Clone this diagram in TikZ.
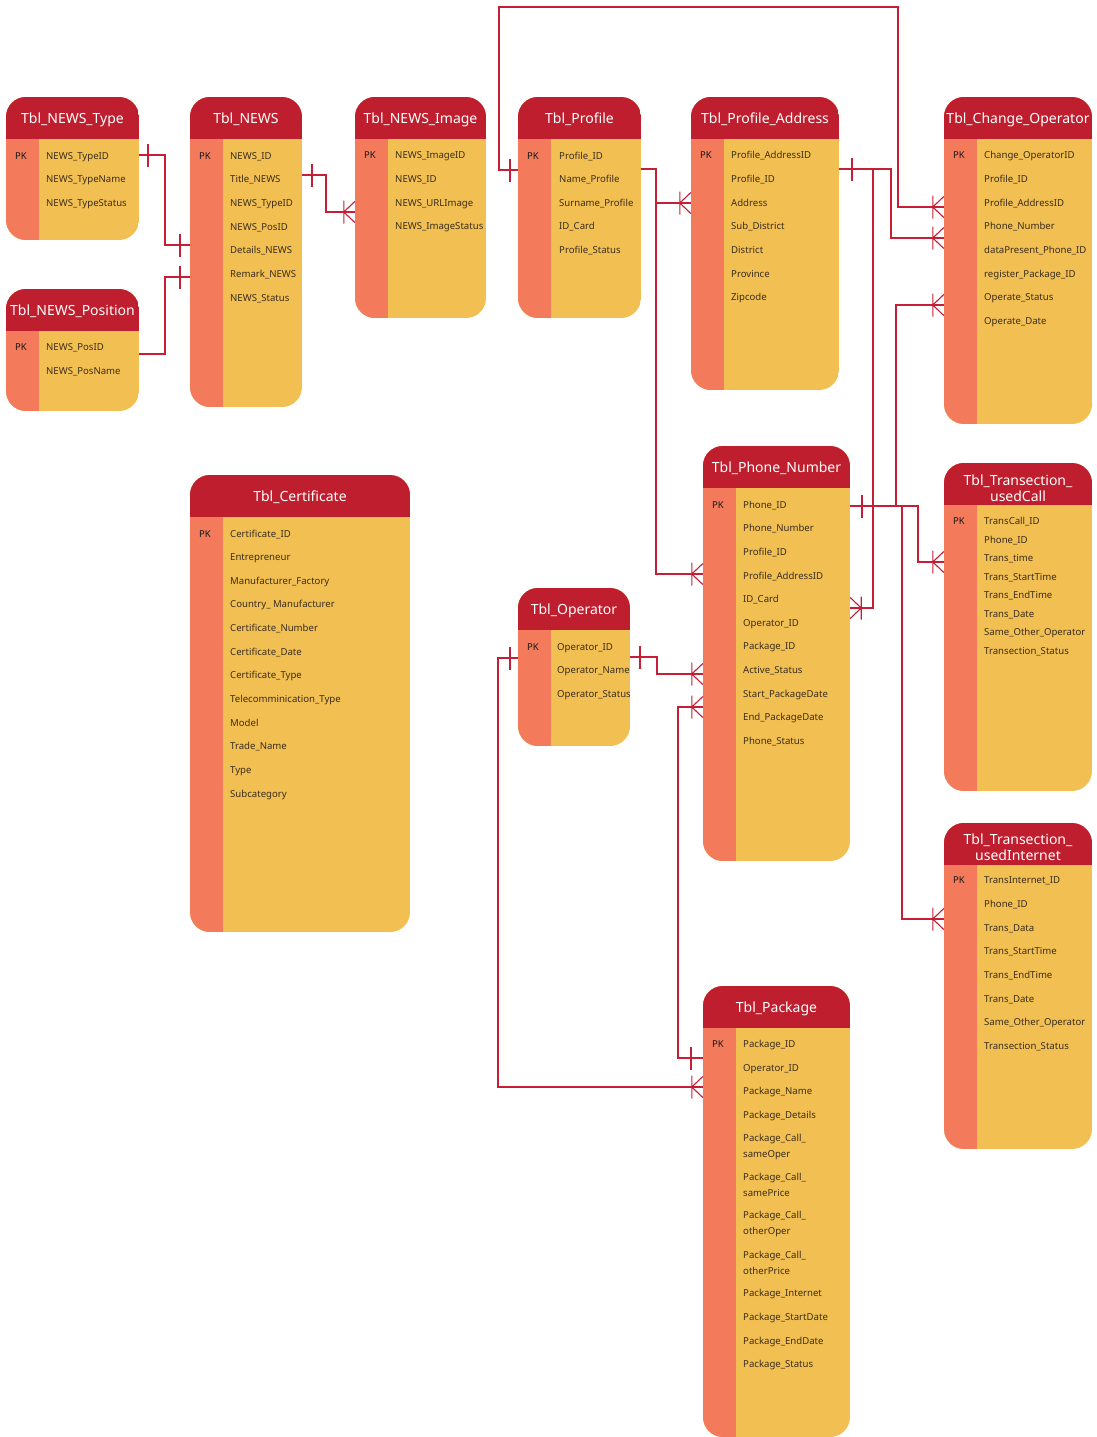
\documentclass[tikz,border=0pt]{standalone}
\usepackage{fontspec}
\setmainfont{Noto Sans}
\usetikzlibrary{fit,calc}

\definecolor{hdr}{HTML}{BE1E2D}
\definecolor{pkcol}{HTML}{F37A5B}
\definecolor{bodycol}{HTML}{F2BF52}
\definecolor{txt}{HTML}{3A2E1E}
\definecolor{rel}{HTML}{C41F35}

\tikzset{
  field/.style={anchor=west, inner sep=0pt, font=\fontsize{9.6}{11}\selectfont,
    text=txt, text height=7pt, text depth=2.5pt, yshift=-2pt},
  field2/.style={anchor=west, inner sep=0pt, align=left,
    font=\fontsize{9.6}{15.5}\selectfont, text=txt, yshift=-1pt},
  pklabel/.style={inner sep=0pt, font=\fontsize{9.5}{11}\selectfont\bfseries,
    text=black!90, text height=6.8pt, text depth=0pt, yshift=-1.5pt},
  tabtitle/.style={inner sep=0pt, font=\fontsize{14}{15.5}\selectfont, text=white,
    align=center},
  relline/.style={draw=rel, line width=1.1pt},
  onebar/.pic={\draw[relline] (0,-11.5) -- (0,11.5);},
  crow/.pic={\draw[relline] (-11,-11.5) -- (-11,11.5) (0,-10.5) -- (-11,0) -- (0,10.5);},
}

% entity box: name, left, top, right, bottom
\newcommand\erbox[5]{%
  \begin{scope}
    \clip[rounded corners=20pt] (#2,#3) rectangle (#4,#5);
    \fill[bodycol] (#2,#3) rectangle (#4,#5);
    \fill[pkcol] (#2,#3) rectangle ({#2+33},#5);
    \fill[hdr] (#2,#3) rectangle (#4,{#3+42});
  \end{scope}
  \coordinate (#1-nw) at (#2,#3);
  \coordinate (#1-se) at (#4,#5);
  \node[fit=(#1-nw)(#1-se), inner sep=0pt] (#1) {};
}
% single-line title: name, text
\newcommand\ertitle[2]{%
  \node[tabtitle, text height=10pt, text depth=3pt, yshift=-2pt] (#1-title)
    at ($(#1.north)+(0,21)$) {#2};}
% PK marker: name, left, row y
\newcommand\erpk[3]{\node[pklabel] (#1-pk) at ({#2+15},#3) {PK};}

\begin{document}
\begin{tikzpicture}[x=1pt, y=-1pt]
\useasboundingbox (0,0) rectangle (1097,1437);
\fill[white] (0,0) rectangle (1097,1437);

% ---------- entities ----------
\erbox{tNT}{6}{97}{139}{240}
\ertitle{tNT}{Tbl\_NEWS\_Type}
\erpk{tNT}{6}{155}
\foreach \y/\t [count=\i] in {155/NEWS\_TypeID,178/NEWS\_TypeName,202/NEWS\_TypeStatus}
  \node[field] (tNT-\i) at (46,\y) {\t};

\erbox{tNP}{6}{289}{139}{411}
\ertitle{tNP}{Tbl\_NEWS\_Position}
\erpk{tNP}{6}{346}
\foreach \y/\t [count=\i] in {346/NEWS\_PosID,370/NEWS\_PosName}
  \node[field] (tNP-\i) at (46,\y) {\t};

\erbox{tN}{190}{97}{302}{407}
\ertitle{tN}{Tbl\_NEWS}
\erpk{tN}{190}{155}
\foreach \y/\t [count=\i] in {155/NEWS\_ID,178/Title\_NEWS,202/NEWS\_TypeID,226/NEWS\_PosID,
    249/Details\_NEWS,273/Remark\_NEWS,297/NEWS\_Status}
  \node[field] (tN-\i) at (230,\y) {\t};

\erbox{tNI}{355}{97}{486}{318}
\ertitle{tNI}{Tbl\_NEWS\_Image}
\erpk{tNI}{355}{154}
\foreach \y/\t [count=\i] in {154/NEWS\_ImageID,178/NEWS\_ID,202/NEWS\_URLImage,225/NEWS\_ImageStatus}
  \node[field] (tNI-\i) at (395,\y) {\t};

\erbox{tP}{518}{97}{641}{318}
\ertitle{tP}{Tbl\_Profile}
\erpk{tP}{518}{155}
\foreach \y/\t [count=\i] in {155/Profile\_ID,178/Name\_Profile,202/Surname\_Profile,
    225/ID\_Card,249/Profile\_Status}
  \node[field] (tP-\i) at (559,\y) {\t};

\erbox{tPA}{691}{97}{839}{390}
\ertitle{tPA}{Tbl\_Profile\_Address}
\erpk{tPA}{691}{154}
\foreach \y/\t [count=\i] in {154/Profile\_AddressID,178/Profile\_ID,202/Address,
    225/Sub\_District,249/District,273/Province,296/Zipcode}
  \node[field] (tPA-\i) at (731,\y) {\t};

\erbox{tCO}{944}{97}{1092}{424}
\ertitle{tCO}{Tbl\_Change\_Operator}
\erpk{tCO}{944}{154}
\foreach \y/\t [count=\i] in {154/Change\_OperatorID,178/Profile\_ID,202/Profile\_AddressID,
    225/Phone\_Number,249/dataPresent\_Phone\_ID,273/register\_Package\_ID,
    296/Operate\_Status,320/Operate\_Date}
  \node[field] (tCO-\i) at (984,\y) {\t};

\erbox{tC}{190}{475}{410}{932}
\ertitle{tC}{Tbl\_Certificate}
\erpk{tC}{190}{533}
\foreach \y/\t [count=\i] in {533/Certificate\_ID,556/Entrepreneur,580/Manufacturer\_Factory,
    603/Country\_ Manufacturer,627/Certificate\_Number,651/Certificate\_Date,
    674/Certificate\_Type,698/Telecomminication\_Type,722/Model,745/Trade\_Name,
    769/Type,793/Subcategory}
  \node[field] (tC-\i) at (230,\y) {\t};

\erbox{tO}{518}{588}{630}{746}
\ertitle{tO}{Tbl\_Operator}
\erpk{tO}{518}{646}
\foreach \y/\t [count=\i] in {646/Operator\_ID,669/Operator\_Name,693/Operator\_Status}
  \node[field] (tO-\i) at (557,\y) {\t};

\erbox{tPN}{703}{446}{850}{861}
\ertitle{tPN}{Tbl\_Phone\_Number}
\erpk{tPN}{703}{504}
\foreach \y/\t [count=\i] in {504/Phone\_ID,527/Phone\_Number,551/Profile\_ID,
    575/Profile\_AddressID,598/ID\_Card,622/Operator\_ID,645/Package\_ID,
    669/Active\_Status,693/Start\_PackageDate,716/End\_PackageDate,740/Phone\_Status}
  \node[field] (tPN-\i) at (743,\y) {\t};

\erbox{tUC}{944}{463}{1092}{791}
\node[tabtitle] (tUC-title) at (1018,488) {Tbl\_Transection\_\\usedCall};
\erpk{tUC}{944}{520}
\foreach \y/\t [count=\i] in {520/TransCall\_ID,539/Phone\_ID,557/Trans\_time,
    576/Trans\_StartTime,594/Trans\_EndTime,613/Trans\_Date,
    631/Same\_Other\_Operator,650/Transection\_Status}
  \node[field] (tUC-\i) at (984,\y) {\t};

\erbox{tUI}{944}{823}{1092}{1149}
\node[tabtitle] (tUI-title) at (1018,847) {Tbl\_Transection\_\\usedInternet};
\erpk{tUI}{944}{879}
\foreach \y/\t [count=\i] in {879/TransInternet\_ID,903/Phone\_ID,927/Trans\_Data,
    950/Trans\_StartTime,974/Trans\_EndTime,998/Trans\_Date,
    1021/Same\_Other\_Operator,1045/Transection\_Status}
  \node[field] (tUI-\i) at (984,\y) {\t};

\erbox{tPK}{703}{986}{850}{1437}
\ertitle{tPK}{Tbl\_Package}
\erpk{tPK}{703}{1043}
\foreach \y/\t [count=\i] in {1043/Package\_ID,1067/Operator\_ID,1090/Package\_Name,
    1114/Package\_Details}
  \node[field] (tPK-\i) at (743,\y) {\t};
\node[field2] (tPK-5) at (743,1146) {Package\_Call\_\\sameOper};
\node[field2] (tPK-6) at (743,1184) {Package\_Call\_\\samePrice};
\node[field2] (tPK-7) at (743,1223) {Package\_Call\_\\otherOper};
\node[field2] (tPK-8) at (743,1262) {Package\_Call\_\\otherPrice};
\foreach \y/\t [count=\i from 9] in {1292/Package\_Internet,1316/Package\_StartDate,
    1340/Package\_EndDate,1363/Package\_Status}
  \node[field] (tPK-\i) at (743,\y) {\t};

% ---------- relationships ----------
% NEWS_Type -> NEWS
\draw[relline] (tNT.east |- 0,155) -| (165,245) -- (tN.west |- 0,245);
\pic at (148,155) {onebar};
\pic at (180,245) {onebar};
% NEWS_Position -> NEWS
\draw[relline] (tNP.east |- 0,354) -| (165,277) -- (tN.west |- 0,277);
\pic at (180,277) {onebar};
% NEWS -> NEWS_Image
\draw[relline] (tN.east |- 0,175) -| (326,212) -- (tNI.west |- 0,212);
\pic at (312,175) {onebar};
\pic at (tNI.west |- 0,212) {crow};
% Profile -> Change_Operator (over the top)
\draw[relline] (tP.west |- 0,170) -| (499,7) -| (898,207) -- (tCO.west |- 0,207);
\pic at (510,170) {onebar};
\pic at (tCO.west |- 0,207) {crow};
% Profile -> Profile_Address, Phone_Number
\draw[relline] (tP.east |- 0,169) -| (656,574) -- (tPN.west |- 0,574);
\coordinate (jP) at (656,203);
\draw[relline] (jP) -- (tPA.west |- 0,203);
\pic at (tPA.west |- 0,203) {crow};
\pic at (tPN.west |- 0,574) {crow};
% Profile_Address -> Change_Operator, Phone_Number
\draw[relline] (tPA.east |- 0,169) -| (891,238) -- (tCO.west |- 0,238);
\pic at (852,169) {onebar};
\pic at (tCO.west |- 0,238) {crow};
\coordinate (jPA) at (873,169);
\draw[relline] (jPA) |- (tPN.east |- 0,608);
\pic[xscale=-1] at (tPN.east |- 0,608) {crow};
% Phone_Number -> usedCall, Change_Operator, usedInternet
\draw[relline] (tPN.east |- 0,506) -| (918,562) -- (tUC.west |- 0,562);
\pic at (862,506) {onebar};
\pic at (tUC.west |- 0,562) {crow};
\coordinate (jPN1) at (896,506);
\coordinate (jPN2) at (902,506);
\draw[relline] (jPN1) |- (tCO.west |- 0,305);
\pic at (tCO.west |- 0,305) {crow};
\draw[relline] (jPN2) |- (tUI.west |- 0,919);
\pic at (tUI.west |- 0,919) {crow};
% Operator -> Phone_Number
\draw[relline] (tO.east |- 0,657) -| (657,674) -- (tPN.west |- 0,674);
\pic at (640,657) {onebar};
\pic at (tPN.west |- 0,674) {crow};
% Operator -> Package
\draw[relline] (tO.west |- 0,658) -| (498,1087) -- (tPK.west |- 0,1087);
\pic at (510,658) {onebar};
\pic at (tPK.west |- 0,1087) {crow};
% Package -> Phone_Number
\draw[relline] (tPK.west |- 0,1058) -| (678,707) -- (tPN.west |- 0,707);
\pic at (691,1058) {onebar};
\pic at (tPN.west |- 0,707) {crow};
\end{tikzpicture}
\end{document}
